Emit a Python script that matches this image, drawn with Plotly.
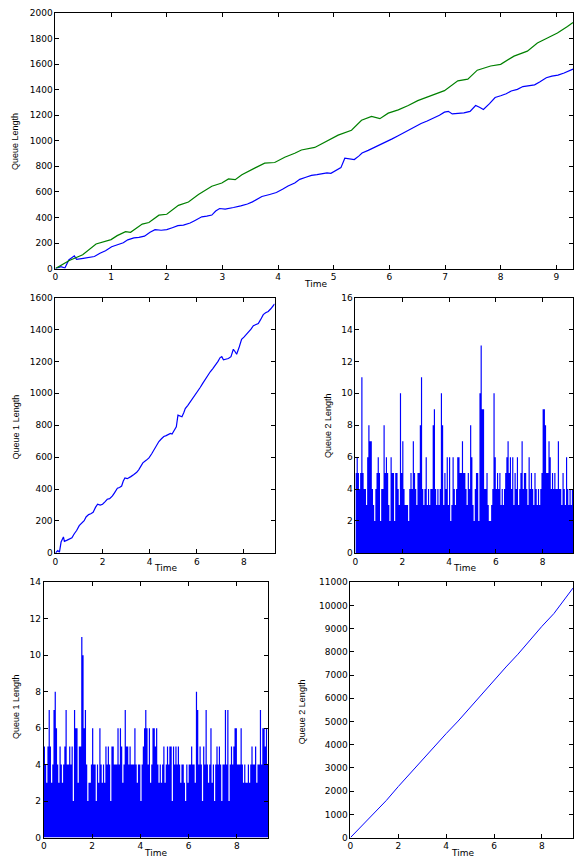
import plotly.graph_objects as go

W, H = 574, 865

# ---- cumulative queue 1 (blue) ----
q1_cum_t = [0, 0.1, 0.17, 0.24, 0.34, 0.38, 0.5, 0.59, 0.7, 0.8,
            0.9, 1.01, 1.1, 1.22, 1.3, 1.41, 1.5, 1.6, 1.7, 1.79,
            1.9, 2.0, 2.1, 2.2, 2.3, 2.42, 2.5, 2.63, 2.72, 2.81,
            2.88, 2.95, 3.05, 3.12, 3.2, 3.33, 3.45, 3.54, 3.62, 3.71,
            3.85, 3.97, 4.08, 4.18, 4.3, 4.39, 4.5, 4.6, 4.7, 4.78,
            4.88, 4.95, 5.06, 5.13, 5.2, 5.28, 5.37, 5.45, 5.51, 5.62,
            5.72, 5.83, 5.94, 6.05, 6.15, 6.25, 6.36, 6.46, 6.57, 6.68,
            6.78, 6.9, 6.99, 7.06, 7.13, 7.24, 7.34, 7.45, 7.55, 7.62,
            7.69, 7.8, 7.9, 8.0, 8.1, 8.19, 8.3, 8.4, 8.5, 8.61,
            8.7, 8.82, 8.92, 9.03, 9.14, 9.24, 9.3]
q1_cum_v = [0, 15, 5, 68, 100, 72, 80, 89, 95, 120,
            140, 171, 185, 202, 225, 240, 245, 254, 285, 305,
            300, 305, 320, 336, 340, 357, 375, 405, 410, 419,
            450, 470, 465, 470, 478, 491, 505, 522, 540, 564,
            580, 595, 620, 646, 670, 698, 715, 729, 735, 740,
            749, 745, 770, 790, 863, 860, 853, 880, 904, 925,
            945, 968, 991, 1015, 1038, 1062, 1090, 1112, 1135, 1155,
            1173, 1200, 1224, 1230, 1210, 1212, 1218, 1230, 1276, 1262,
            1245, 1290, 1338, 1352, 1368, 1389, 1402, 1424, 1432, 1437,
            1460, 1493, 1505, 1513, 1530, 1548, 1560]

# ---- total queue (green) ----
tot_t = [0, 0.25, 0.49, 0.73, 1.0, 1.11, 1.26, 1.35, 1.56, 1.68,
         1.86, 2.0, 2.21, 2.39, 2.57, 2.81, 2.99, 3.11, 3.23, 3.35,
         3.58, 3.76, 3.94, 4.12, 4.3, 4.42, 4.66, 4.84, 5.08, 5.32,
         5.5, 5.68, 5.83, 5.98, 6.16, 6.34, 6.51, 6.75, 6.99, 7.23,
         7.41, 7.58, 7.82, 8.0, 8.24, 8.48, 8.66, 8.84, 9.02, 9.2, 9.3]
tot_v = [0, 64, 108, 193, 227, 258, 289, 284, 348, 361,
         418, 425, 495, 521, 580, 644, 670, 701, 696, 735,
         786, 825, 830, 871, 902, 928, 948, 992, 1044, 1082,
         1160, 1191, 1173, 1216, 1242, 1276, 1314, 1353, 1392, 1469,
         1482, 1552, 1585, 1598, 1662, 1701, 1765, 1804, 1843, 1894, 1925]

# ---- cumulative queue 2 (bottom right) ----
q2_cum_t = [0, 0.5, 1, 1.5, 2, 2.5, 3, 3.5, 4, 4.5, 5, 5.5, 6, 6.5, 7, 7.5, 8, 8.5, 9, 9.3]
q2_cum_v = [0, 520, 1050, 1600, 2200, 2780, 3350, 3900, 4480, 5020,
            5600, 6220, 6800, 7350, 7900, 8500, 9100, 9650, 10350, 10750]

# ---- fluctuating queue lengths, sampled every 0.05 time units ----
q2_len = [5, 6, 5, 4, 5, 11, 5, 4, 4, 3,
          6, 8, 7, 7, 4, 3, 2, 4, 5, 6,
          5, 2, 4, 4, 8, 5, 6, 5, 3, 2,
          6, 5, 5, 2, 5, 5, 4, 3, 10, 5,
          7, 4, 3, 3, 3, 2, 4, 5, 4, 7,
          5, 4, 3, 5, 5, 8, 11, 4, 3, 4,
          6, 3, 4, 3, 4, 4, 8, 9, 4, 3,
          4, 3, 4, 10, 8, 3, 5, 4, 6, 3,
          6, 2, 3, 6, 4, 3, 4, 6, 6, 5,
          5, 7, 5, 5, 4, 3, 5, 4, 8, 6,
          3, 2, 4, 5, 5, 2, 10, 13, 9, 9,
          4, 4, 5, 3, 2, 2, 3, 4, 10, 6,
          4, 5, 4, 5, 3, 4, 3, 4, 5, 6,
          7, 5, 6, 4, 6, 3, 5, 4, 6, 3,
          4, 5, 7, 4, 5, 5, 4, 3, 6, 4,
          5, 4, 3, 5, 4, 3, 4, 3, 4, 5,
          9, 9, 8, 5, 5, 7, 6, 4, 5, 4,
          5, 4, 4, 7, 4, 4, 3, 5, 4, 3,
          6, 4, 3, 4, 3, 4]
q1_len = [5, 4, 3, 5, 7, 5, 3, 4, 7, 8,
          6, 4, 3, 5, 4, 3, 4, 5, 7, 4,
          4, 5, 4, 5, 2, 7, 6, 6, 3, 5,
          5, 11, 10, 6, 7, 4, 2, 3, 3, 4,
          6, 4, 4, 2, 4, 3, 6, 4, 3, 4,
          3, 5, 4, 5, 4, 2, 5, 5, 4, 4,
          4, 6, 4, 6, 5, 3, 4, 7, 5, 5,
          4, 5, 4, 4, 4, 6, 4, 3, 4, 4,
          2, 4, 5, 6, 7, 6, 4, 6, 3, 4,
          6, 6, 5, 6, 4, 3, 4, 3, 4, 5,
          3, 4, 5, 4, 5, 5, 2, 5, 4, 5,
          4, 5, 4, 3, 4, 4, 3, 2, 4, 3,
          4, 4, 5, 4, 4, 3, 8, 7, 4, 5,
          4, 2, 5, 4, 7, 4, 3, 4, 6, 3,
          4, 2, 4, 5, 4, 5, 4, 2, 4, 4,
          7, 4, 7, 2, 4, 5, 4, 5, 6, 6,
          4, 4, 4, 6, 4, 3, 4, 3, 3, 4,
          3, 4, 5, 4, 4, 5, 3, 4, 4, 7,
          4, 6, 6, 5, 6, 4]
STEP = 0.05
len_t = [round(STEP * i, 2) for i in range(len(q1_len))]
T_END = 9.3

BLUE = "#0000FF"
GREEN = "#008000"

fig = go.Figure()

def px_dom_x(a, b):
    return [a / W, b / W]

def px_dom_y(top, bottom):
    return [1 - bottom / H, 1 - top / H]

# subplot domains (pixels)
doms = {
    1: (px_dom_x(52.7, 573), px_dom_y(8, 266.7)),
    2: (px_dom_x(52.7, 273), px_dom_y(296, 554.3)),
    3: (px_dom_x(354.3, 573), px_dom_y(296, 554.3)),
    4: (px_dom_x(41, 266.7), px_dom_y(584, 842.3)),
    5: (px_dom_x(349.3, 573), px_dom_y(584, 842.3)),
}
yranges = {1: (2000, 200), 2: (1600, 200), 3: (16, 2), 4: (14, 2), 5: (11000, 1000)}
xdticks = {1: 1, 2: 2, 3: 2, 4: 2, 5: 2}

tick_font = dict(family="DejaVu Sans, Liberation Sans, Arial", size=9, color="#000")

for k in range(1, 6):
    xd, yd = doms[k]
    sfx = "" if k == 1 else str(k)
    fig.layout["xaxis" + sfx] = dict(
        domain=xd, anchor="y" + sfx, range=[0, T_END], dtick=xdticks[k], tick0=0,
        showline=True, linecolor="#000", linewidth=1, mirror="ticks",
        ticks="inside", ticklen=4, tickcolor="#000", tickfont=tick_font,
        showgrid=False, zeroline=False, fixedrange=True, tickformat="d",
    )
    fig.layout["yaxis" + sfx] = dict(
        domain=yd, anchor="x" + sfx, range=[0, yranges[k][0]], dtick=yranges[k][1], tick0=0,
        showline=True, linecolor="#000", linewidth=1, mirror="ticks",
        ticks="inside", ticklen=4, tickcolor="#000", tickfont=tick_font,
        showgrid=False, zeroline=False, fixedrange=True, tickformat="d",
    )

# top: both cumulative series
fig.add_trace(go.Scatter(x=q1_cum_t, y=q1_cum_v, mode="lines", line=dict(color=BLUE, width=1.2),
                         xaxis="x", yaxis="y", showlegend=False))
fig.add_trace(go.Scatter(x=tot_t, y=tot_v, mode="lines", line=dict(color=GREEN, width=1.2),
                         xaxis="x", yaxis="y", showlegend=False))
# middle left: queue 1 cumulative
fig.add_trace(go.Scatter(x=q1_cum_t, y=q1_cum_v, mode="lines", line=dict(color=BLUE, width=1.2),
                         xaxis="x2", yaxis="y2", showlegend=False))
# middle right: queue 2 length (filled step)
fig.add_trace(go.Scatter(x=len_t + [T_END], y=q2_len + [q2_len[-1]], mode="lines",
                         line=dict(color=BLUE, width=0, shape="hv"), fill="tozeroy",
                         fillcolor=BLUE, xaxis="x3", yaxis="y3", showlegend=False))
# bottom left: queue 1 length (filled step)
fig.add_trace(go.Scatter(x=len_t + [T_END], y=q1_len + [q1_len[-1]], mode="lines",
                         line=dict(color=BLUE, width=0, shape="hv"), fill="tozeroy",
                         fillcolor=BLUE, xaxis="x4", yaxis="y4", showlegend=False))
# bottom right: queue 2 cumulative
fig.add_trace(go.Scatter(x=q2_cum_t, y=q2_cum_v, mode="lines", line=dict(color=BLUE, width=1),
                         xaxis="x5", yaxis="y5", showlegend=False))

title_font = dict(family="DejaVu Sans, Liberation Sans, Arial", size=9, color="#000")
ytitle_font = dict(family="Liberation Sans Narrow, Liberation Sans, Arial", size=9, color="#000")

annots = [
    ("Time", 314, 282.5, 0, title_font),
    ("Time", 163, 570, 0, title_font),
    ("Time", 464, 570, 0, title_font),
    ("Time", 153.5, 858, 0, title_font),
    ("Time", 462, 858, 0, title_font),
    ("Queue Length", 12.7, 138, -90, ytitle_font),
    ("Queue 1 Length", 12.7, 426.7, -90, ytitle_font),
    ("Queue 2 Length", 326.7, 425, -90, ytitle_font),
    ("Queue 1 Length", 13.3, 710, -90, ytitle_font),
    ("Queue 2 Length", 300, 715, -90, ytitle_font),
]
for text, x, y, ang, f in annots:
    fig.add_annotation(text=text, x=x / W, y=1 - y / H, xref="paper", yref="paper",
                       showarrow=False, textangle=ang, font=f, xanchor="center", yanchor="middle")

fig.update_layout(
    width=W, height=H, margin=dict(l=0, r=0, t=0, b=0),
    paper_bgcolor="white", plot_bgcolor="white", showlegend=False,
)

fig.write_html("out.html", config={"displayModeBar": False},
               post_script="document.body.style.margin='0';document.body.style.overflow='hidden';")
